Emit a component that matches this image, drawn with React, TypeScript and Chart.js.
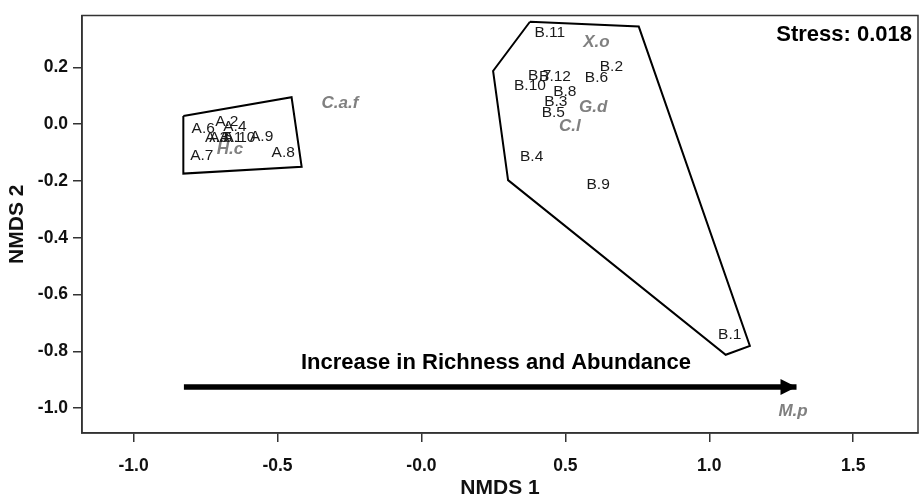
import { useEffect, useRef } from 'react';
import { Chart, registerables } from 'chart.js';

Chart.register(...registerables);

// ---- data ----
const siteLabels = ['A.6', 'A.2', 'A.4', 'A.3', 'A.5', 'A.1', 'A.10', 'A.9', 'A.7', 'A.8',
  'B.11', 'B.2', 'B.6', 'B.7', 'B.12', 'B.10', 'B.8', 'B.3', 'B.5', 'B.4', 'B.9', 'B.1'];
const siteX = [-0.758, -0.676, -0.648, -0.711, -0.697, -0.662, -0.632, -0.555, -0.763, -0.480,
  0.446, 0.660, 0.608, 0.411, 0.464, 0.377, 0.498, 0.467, 0.458, 0.383, 0.614, 1.071];
const siteY = [-0.017, 0.009, -0.010, -0.046, -0.046, -0.046, -0.046, -0.044, -0.110, -0.102,
  0.324, 0.202, 0.164, 0.170, 0.168, 0.135, 0.116, 0.079, 0.041, -0.113, -0.214, -0.740];

const speciesLabels = ['C.a.f', 'H.c', 'X.o', 'G.d', 'C.l', 'M.p'];
const speciesX = [-0.283, -0.665, 0.608, 0.597, 0.516, 1.291];
const speciesY = [0.075, -0.087, 0.289, 0.060, -0.009, -1.013];

const hullAX = [-0.827, -0.451, -0.416, -0.827, -0.827];
const hullAY = [0.029, 0.095, -0.150, -0.174, 0.029];
const hullBX = [0.377, 0.755, 1.141, 1.057, 0.301, 0.249, 0.377];
const hullBY = [0.361, 0.344, -0.781, -0.8125, -0.197, 0.1875, 0.361];

const arrowX = [-0.825, 1.303];
const arrowY = [-0.926, -0.926];
const arrowText = 'Increase in Richness and Abundance';
const arrowTextX = 0.259;
const arrowTextY = -0.84;
const stressText = 'Stress: 0.018';

const xTickValues = [-1.0, -0.5, 0.0, 0.5, 1.0, 1.5];
const xTickLabels = ['-1.0', '-0.5', '-0.0', '0.5', '1.0', '1.5'];
const yTickValues = [-1.0, -0.8, -0.6, -0.4, -0.2, 0.0, 0.2];
const yTickLabels = ['-1.0', '-0.8', '-0.6', '-0.4', '-0.2', '0.0', '0.2'];

const xTitle = 'NMDS 1';
const yTitle = 'NMDS 2';

const FONT = '"Liberation Sans", Arial, Helvetica, sans-serif';

const zip = (xs: number[], ys: number[]) => xs.map((x, i) => ({ x, y: ys[i] }));

const framePlugin = {
  id: 'frame',
  afterDraw(chart: any) {
    const { ctx, chartArea: a } = chart;
    ctx.save();
    ctx.strokeStyle = '#333';
    ctx.lineWidth = 1.5;
    ctx.strokeRect(a.left, a.top, a.right - a.left, a.bottom - a.top);
    ctx.restore();
  },
};

const labelPlugin = {
  id: 'ordLabels',
  afterDatasetsDraw(chart: any) {
    const { ctx, chartArea: a } = chart;
    const xs = chart.scales.x;
    const ys = chart.scales.y;
    ctx.save();
    ctx.textAlign = 'center';
    ctx.textBaseline = 'middle';

    // arrow head
    const arrowMeta = chart.getDatasetMeta(4);
    const tip = arrowMeta.data[arrowMeta.data.length - 1];
    ctx.fillStyle = '#000';
    ctx.beginPath();
    ctx.moveTo(tip.x, tip.y);
    ctx.lineTo(tip.x - 16, tip.y - 8);
    ctx.lineTo(tip.x - 16, tip.y + 8);
    ctx.closePath();
    ctx.fill();

    // site labels
    ctx.font = `15.5px ${FONT}`;
    ctx.fillStyle = '#1a1a1a';
    const siteMeta = chart.getDatasetMeta(2);
    siteMeta.data.forEach((el: any, i: number) => ctx.fillText(siteLabels[i], el.x, el.y));

    // species labels
    ctx.font = `italic bold 17px ${FONT}`;
    ctx.fillStyle = '#808080';
    const spMeta = chart.getDatasetMeta(3);
    spMeta.data.forEach((el: any, i: number) => ctx.fillText(speciesLabels[i], el.x, el.y));

    // arrow annotation
    ctx.font = `bold 22px ${FONT}`;
    ctx.fillStyle = '#000';
    ctx.fillText(arrowText, xs.getPixelForValue(arrowTextX), ys.getPixelForValue(arrowTextY));

    // stress
    ctx.font = `bold 22px ${FONT}`;
    ctx.textAlign = 'right';
    ctx.fillText(stressText, a.right - 6, a.top + 19);
    ctx.restore();
  },
};

export default function App() {
  const ref = useRef<HTMLCanvasElement | null>(null);

  useEffect(() => {
    if (!ref.current) return;
    const axisCommon = {
      type: 'linear' as const,
      border: { display: true, color: '#333', width: 1.5 },
      grid: { drawOnChartArea: false, drawTicks: true, tickLength: 9, color: '#333', lineWidth: 1.5 },
    };
    const chart = new Chart(ref.current, {
      type: 'scatter',
      data: {
        datasets: [
          { data: zip(hullAX, hullAY), showLine: true, borderColor: '#000', borderWidth: 2, pointRadius: 0, fill: false },
          { data: zip(hullBX, hullBY), showLine: true, borderColor: '#000', borderWidth: 2, pointRadius: 0, fill: false },
          { data: zip(siteX, siteY), pointRadius: 0, showLine: false },
          { data: zip(speciesX, speciesY), pointRadius: 0, showLine: false },
          { data: zip(arrowX, arrowY), showLine: true, borderColor: '#000', borderWidth: 5.5, pointRadius: 0, borderCapStyle: 'butt' },
        ],
      },
      options: {
        animation: false,
        responsive: false,
        maintainAspectRatio: false,
        layout: { padding: { top: 10, right: 2, left: 0, bottom: 0 } },
        plugins: { legend: { display: false }, tooltip: { enabled: false } },
        scales: {
          x: {
            ...axisCommon,
            min: -1.179,
            max: 1.725,
            afterFit: (s: any) => { s.height = 66; },
            afterBuildTicks: (s: any) => { s.ticks = xTickValues.map((v) => ({ value: v })); },
            ticks: {
              autoSkip: false,
              maxRotation: 0,
              padding: 14,
              color: '#111',
              font: { family: FONT, size: 17.5, weight: 'bold' },
              callback: (v: any) => xTickLabels[xTickValues.indexOf(Number(v))],
            },
            title: {
              display: true,
              text: xTitle,
              color: '#111',
              font: { family: FONT, size: 21, weight: 'bold', lineHeight: 1 },
              padding: { top: 0, bottom: 0 },
            },
          },
          y: {
            ...axisCommon,
            min: -1.088,
            max: 0.383,
            afterFit: (s: any) => { s.width = 82; },
            afterBuildTicks: (s: any) => { s.ticks = yTickValues.map((v) => ({ value: v })); },
            ticks: {
              autoSkip: false,
              padding: 5,
              color: '#111',
              font: { family: FONT, size: 17.5, weight: 'bold' },
              callback: (v: any) => yTickLabels[yTickValues.indexOf(Number(v))],
            },
            title: {
              display: true,
              text: yTitle,
              color: '#111',
              font: { family: FONT, size: 21, weight: 'bold', lineHeight: 1 },
              padding: { top: 7, bottom: 0 },
            },
          },
        },
      } as any,
      plugins: [framePlugin, labelPlugin],
    });
    return () => chart.destroy();
  }, []);

  return (
    <div style={{ position: 'fixed', left: 0, top: 0, width: 920, height: 499, background: '#fff' }}>
      <canvas ref={ref} width={920} height={499} style={{ width: 920, height: 499, display: 'block' }} />
    </div>
  );
}
